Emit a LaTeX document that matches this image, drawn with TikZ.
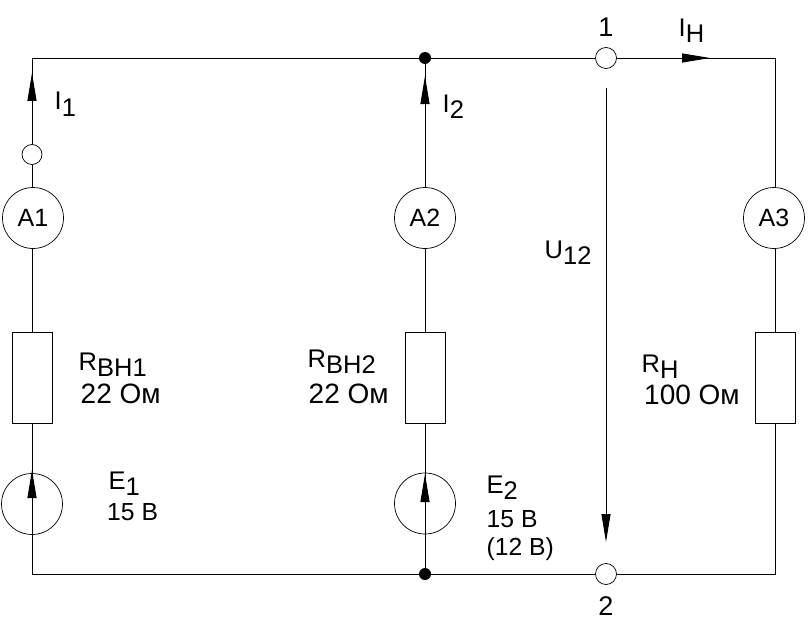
\documentclass[tikz,border=0pt]{standalone}
\usepackage{fontspec}
\setmainfont{Liberation Sans}
\usetikzlibrary{arrows.meta}
\newcommand{\sbs}[2]{#1\raisebox{-6pt}{#2}}
\tikzset{
  x=1pt,y=-1pt,
  wire/.style={line width=0.9pt,black},
  term/.style={circle,draw,line width=0.7pt,fill=white,minimum size=21pt,inner sep=0pt},
  meter/.style={circle,draw,line width=0.7pt,fill=white,minimum size=61pt,inner sep=0pt,font=\fontsize{25}{25}\selectfont},
  source/.style={circle,draw,line width=0.7pt,minimum size=61pt,inner sep=0pt},
  res/.style={rectangle,draw,line width=0.8pt,fill=white,minimum width=40pt,minimum height=91pt,inner sep=0pt},
  junction/.style={circle,fill=black,minimum size=12pt,inner sep=0pt},
  lab/.style={anchor=base west,inner sep=0pt,font=\fontsize{25.5}{26}\selectfont},
  labv/.style={anchor=base west,inner sep=0pt,font=\fontsize{28}{28}\selectfont},
  labs/.style={anchor=base west,inner sep=0pt,font=\fontsize{24.7}{25}\selectfont},
  labc/.style={anchor=base,inner sep=0pt,font=\fontsize{27}{27}\selectfont},
  head/.style={line width=0.9pt,-{Triangle[length=28pt,width=9pt]}},
}
\begin{document}
\begin{tikzpicture}
\useasboundingbox (0,0) rectangle (809,618);
\fill[white] (0,0) rectangle (809,618);
\coordinate (tl) at (32,58);
\coordinate (tr) at (775,58);
\coordinate (bl) at (32,574);
\coordinate (br) at (775,574);
\node[junction] (j1) at (425,58) {};
\node[junction] (j2) at (425,574) {};
\node[term] (t1) at (606,58) {};
\node[term] (t2) at (606,574) {};
\node[term,minimum size=20pt] (t3) at (32,154.5) {};
\node[meter] (a1) at (33,218) {A1};
\node[meter] (a2) at (425,218) {A2\hspace{4pt}};
\node[meter] (a3) at (774,218) {A3};
\node[res] (r1) at (32,377.5) {};
\node[res] (r2) at (425,377.5) {};
\node[res] (r3) at (775,377.5) {};
\node[source] (e1) at (32,504) {};
\node[source] (e2) at (425,503.5) {};
% connectors
\draw[wire] (t3) -- (tl) -- (j1) -- (t1) -- (tr) -- (a3.north -| tr);
\draw[wire] (t3) -- (t3 |- a1.north);
\draw[wire] (r1.north) -- (r1.north |- a1.south);
\draw[wire] (r1.south) -- (e1.north);
\draw[wire] (e1.north) -- (bl) -- (j2) -- (t2) -- (br) -- (r3.south);
\draw[wire] (r3.north) -- (r3.north |- a3.south);
\draw[wire] (j1) -- (a2.north);
\draw[wire] (r2.north) -- (a2.south);
\draw[wire] (r2.south) -- (e2.north);
\draw[wire] (e2.north) -- (j2);
% arrowheads
\coordinate (h1a) at (32,101); \coordinate (h1b) at (32,73);
\coordinate (h2a) at (425,104); \coordinate (h2b) at (425,76);
\coordinate (h3a) at (682,58); \coordinate (h3b) at (710,58);
\coordinate (h4a) at (32,498); \coordinate (h4b) at (32,470);
\coordinate (h5a) at (425,502); \coordinate (h5b) at (425,474);
\coordinate (ua) at (606,88); \coordinate (ub) at (606,542);
\draw[head] (h1a) -- (h1b);
\draw[head] (h2a) -- (h2b);
\draw[head] (h3a) -- (h3b);
\draw[head] (h4a) -- (h4b);
\draw[head] (h5a) -- (h5b);
\draw[head] (ua) -- (ub);
% labels
\node[lab] (li1) at (54.5,110) {\sbs{I}{1}};
\node[lab] (li2) at (442.5,112) {\sbs{I}{2}};
\node[lab] (lih) at (678.5,37) {\sbs{I}{Н}};
\node[labc] (l1) at (606,37) {1};
\node[labc] (l2) at (606,615) {2};
\node[lab] (lu) at (544.5,258) {\sbs{U}{12}};
\node[lab] (lr1) at (78.5,370) {\sbs{R}{ВН1}};
\node[labv] (lv1) at (80.5,403) {22 Ом};
\node[lab] (lr2) at (307.5,367) {\sbs{R}{ВН2}};
\node[labv] (lv2) at (308.5,403) {22 Ом};
\node[lab] (lr3) at (641.5,372) {\sbs{R}{Н}};
\node[labv] (lv3) at (644,404) {100 Ом};
\node[lab] (le1) at (108.5,489) {\sbs{E}{1}};
\node[labs] (lv4) at (107,520) {15 В};
\node[lab] (le2) at (486.5,493) {\sbs{E}{2}};
\node[labs] (lv5) at (486.5,527) {15 В};
\node[labs] (lv6) at (486.5,555) {(12 В)};
\end{tikzpicture}
\end{document}
